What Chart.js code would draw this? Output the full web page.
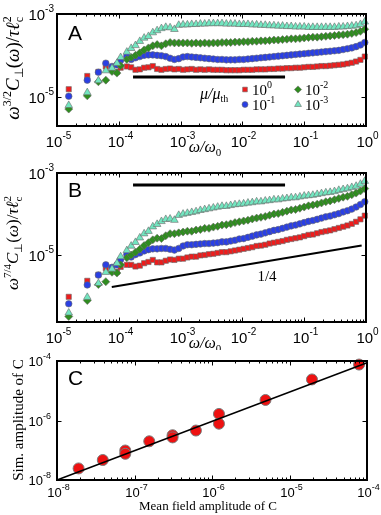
<!DOCTYPE html>
<html>
<head>
<meta charset="utf-8">
<script src="https://cdn.jsdelivr.net/npm/chart.js@4.4.0/dist/chart.umd.min.js"></script>
<style>
    html, body { margin: 0; padding: 0; background: #fff; }
    #wrap { position: relative; width: 381px; height: 515px; overflow: hidden; }
    canvas { position: absolute; left: 0; }
</style>
</head>
<body>
<div id="wrap">
    <canvas id="chartA" width="381" height="160" style="top:0px"></canvas>
    <canvas id="chartB" width="381" height="190" style="top:160px"></canvas>
    <canvas id="chartC" width="381" height="165" style="top:350px"></canvas>
</div>
<script>
// Fonts
const SANS = '"Liberation Sans", Arial, sans-serif';
const SERIF = '"Liberation Serif", "Times New Roman", serif';

// ---- Data (log10 values) ----
// omega / omega0 (log10), shared by panels A and B
const omegaExp = [-4.81, -4.51, -4.33, -4.21, -4.11, -4.03, -3.97,
    -3.87, -3.80, -3.73, -3.66, -3.59, -3.52, -3.45, -3.38, -3.31, -3.24,
    -3.17, -3.10, -3.03, -2.96, -2.89, -2.82, -2.75, -2.68, -2.61, -2.54,
    -2.47, -2.40, -2.33, -2.26, -2.19, -2.12, -2.05, -1.98, -1.91, -1.84,
    -1.77, -1.70, -1.63, -1.56, -1.49, -1.42, -1.35, -1.28, -1.21, -1.14,
    -1.07, -1.00, -0.93, -0.86, -0.79, -0.72, -0.65, -0.58, -0.51, -0.44,
    -0.37, -0.30, -0.23, -0.16, -0.09, -0.02];

// Panel A: omega^(3/2) C(omega) / tau l_c^2 (log10)
const aRed = [-4.82, -4.50, -4.40, -4.27, -4.35, -4.40, -4.30,
    -4.27, -4.29, -4.35, -4.34, -4.30, -4.29, -4.26, -4.33, -4.35, -4.33,
    -4.32, -4.34, -4.33, -4.35, -4.34, -4.33, -4.35, -4.34, -4.35, -4.34,
    -4.35, -4.35, -4.35, -4.36, -4.36, -4.36, -4.36, -4.35, -4.35, -4.35,
    -4.34, -4.34, -4.34, -4.33, -4.33, -4.32, -4.32, -4.31, -4.31, -4.30,
    -4.30, -4.29, -4.28, -4.28, -4.27, -4.26, -4.26, -4.25, -4.24, -4.23,
    -4.22, -4.20, -4.18, -4.15, -4.11, -4.03];
const aBlue = [-4.99, -4.60, -4.41, -4.19, -4.27, -4.23, -4.12,
    -4.02, -4.10, -4.06, -4.03, -4.00, -3.99, -3.99, -4.00, -4.01, -4.03,
    -4.07, -4.10, -4.08, -4.04, -4.03, -4.04, -4.05, -4.06, -4.07, -4.08,
    -4.09, -4.10, -4.10, -4.11, -4.11, -4.11, -4.10, -4.10, -4.09, -4.08,
    -4.07, -4.06, -4.05, -4.04, -4.03, -4.02, -4.01, -4.00, -3.99, -3.98,
    -3.97, -3.96, -3.95, -3.94, -3.93, -3.92, -3.91, -3.90, -3.89, -3.88,
    -3.86, -3.84, -3.82, -3.79, -3.75, -3.69];
const aGreen = [-5.30, -4.98, -4.64, -4.60, -4.39, -4.43, -4.25,
    -4.10, -4.05, -4.00, -3.94, -3.87, -3.82, -3.77, -3.74, -3.77, -3.72,
    -3.69, -3.70, -3.70, -3.70, -3.70, -3.71, -3.70, -3.71, -3.70, -3.71,
    -3.70, -3.70, -3.69, -3.69, -3.69, -3.68, -3.68, -3.67, -3.67, -3.66,
    -3.66, -3.65, -3.65, -3.64, -3.63, -3.63, -3.62, -3.61, -3.60, -3.60,
    -3.59, -3.58, -3.57, -3.56, -3.56, -3.55, -3.54, -3.53, -3.52, -3.51,
    -3.50, -3.49, -3.47, -3.45, -3.42, -3.37];
const aCyan = [-5.21, -4.90, -4.61, -4.37, -4.31, -4.19, -4.05,
    -3.92, -3.83, -3.76, -3.66, -3.58, -3.54, -3.45, -3.40, -3.35, -3.32,
    -3.33, -3.37, -3.27, -3.26, -3.26, -3.25, -3.25, -3.24, -3.24, -3.23,
    -3.23, -3.23, -3.23, -3.24, -3.24, -3.24, -3.25, -3.25, -3.25, -3.26,
    -3.26, -3.27, -3.27, -3.28, -3.28, -3.29, -3.29, -3.30, -3.30, -3.31,
    -3.31, -3.31, -3.32, -3.32, -3.32, -3.32, -3.32, -3.32, -3.32, -3.31,
    -3.31, -3.30, -3.29, -3.28, -3.25, -3.19];

// Panel B: omega^(7/4) C(omega) / tau l_c^2 (log10)
const bRed = [-6.02, -5.63, -5.48, -5.32, -5.38, -5.41, -5.29,
    -5.24, -5.24, -5.28, -5.26, -5.20, -5.17, -5.12, -5.18, -5.18, -5.14,
    -5.11, -5.12, -5.09, -5.09, -5.06, -5.04, -5.04, -5.01, -5.00, -4.98,
    -4.97, -4.95, -4.93, -4.93, -4.91, -4.89, -4.87, -4.85, -4.83, -4.81,
    -4.78, -4.77, -4.75, -4.72, -4.70, -4.68, -4.66, -4.63, -4.61, -4.59,
    -4.57, -4.54, -4.51, -4.50, -4.47, -4.44, -4.42, -4.40, -4.37, -4.34,
    -4.31, -4.28, -4.24, -4.19, -4.13, -4.04];
const bBlue = [-6.19, -5.73, -5.49, -5.24, -5.30, -5.24, -5.11,
    -4.99, -5.05, -4.99, -4.95, -4.90, -4.87, -4.85, -4.85, -4.84, -4.84,
    -4.86, -4.88, -4.84, -4.78, -4.75, -4.75, -4.74, -4.73, -4.72, -4.72,
    -4.71, -4.70, -4.68, -4.68, -4.66, -4.64, -4.61, -4.60, -4.57, -4.54,
    -4.51, -4.49, -4.46, -4.43, -4.40, -4.38, -4.35, -4.32, -4.29, -4.27,
    -4.24, -4.21, -4.18, -4.16, -4.13, -4.10, -4.07, -4.05, -4.02, -3.99,
    -3.95, -3.92, -3.88, -3.83, -3.77, -3.70];
const bGreen = [-6.50, -6.11, -5.72, -5.65, -5.42, -5.44, -5.24,
    -5.07, -5.00, -4.93, -4.86, -4.77, -4.70, -4.63, -4.59, -4.60, -4.53,
    -4.48, -4.48, -4.46, -4.44, -4.42, -4.42, -4.39, -4.38, -4.35, -4.35,
    -4.32, -4.30, -4.27, -4.26, -4.24, -4.21, -4.19, -4.17, -4.15, -4.12,
    -4.10, -4.08, -4.06, -4.03, -4.00, -3.99, -3.96, -3.93, -3.90, -3.89,
    -3.86, -3.83, -3.80, -3.78, -3.76, -3.73, -3.70, -3.68, -3.65, -3.62,
    -3.59, -3.57, -3.53, -3.49, -3.44, -3.38];
const bCyan = [-6.41, -6.03, -5.69, -5.42, -5.34, -5.20, -5.04,
    -4.89, -4.78, -4.69, -4.58, -4.48, -4.42, -4.31, -4.25, -4.18, -4.13,
    -4.12, -4.15, -4.03, -4.00, -3.98, -3.96, -3.94, -3.91, -3.89, -3.87,
    -3.85, -3.83, -3.81, -3.81, -3.79, -3.77, -3.76, -3.75, -3.73, -3.72,
    -3.70, -3.70, -3.68, -3.67, -3.65, -3.65, -3.63, -3.62, -3.60, -3.60,
    -3.58, -3.56, -3.55, -3.54, -3.52, -3.50, -3.48, -3.47, -3.45, -3.42,
    -3.40, -3.38, -3.35, -3.32, -3.27, -3.20];

// legend: mu / mu_th exponents
const muExp = ['0', '-1', '-2', '-3'];

// reference lines
const aFlatX = [1.7e-4, 4.9e-2];
const aFlatY = [3.0e-5, 3.0e-5];
const bFlatX = [1.7e-4, 4.9e-2];
const bFlatY = [5.1e-4, 5.1e-4];
const bSlopeX = [7.7e-5, 0.85];
const bSlopeY = [1.66e-6, 1.7e-5];

// Panel C
const cMeanField = [1.9e-8, 3.9e-8, 7.6e-8, 7.6e-8, 1.55e-7, 3.1e-7, 3.1e-7,
    6.2e-7, 1.23e-6, 1.23e-6, 4.9e-6, 1.95e-5, 7.9e-5];
const cSim = [2.45e-8, 4.7e-8, 9.8e-8, 7.6e-8, 2.0e-7, 3.2e-7, 2.7e-7,
    4.6e-7, 1.66e-6, 7.8e-7, 4.9e-6, 2.4e-5, 7.6e-5];
const cFitX = [1e-8, 1e-4];
const cFitY = [1e-8, 8.7e-5];

// tick exponents
const wTicks = [-5, -4, -3, -2, -1, 0];
const aYTicks = [-5, -3];
const bYTicks = [-5, -3];
const cXTicks = [-8, -7, -6, -5, -4];
const cYTicks = [-8, -6, -4];

// ---- Styles ----
const seriesStyle = [
    { color: '#ee1c1c', shape: 'rect', r: 3.7 },
    { color: '#2a3fe4', shape: 'circle', r: 3.3 },
    { color: '#2f8c1f', shape: 'rectRot', r: 4.0 },
    { color: '#72e6c0', shape: 'triangle', r: 4.4 }
];

function toPoints(xs, ys, isLog) {
    return xs.map((x, i) => isLog
        ? { x: Math.pow(10, x), y: Math.pow(10, ys[i]) }
        : { x: x, y: ys[i] });
}

function markerSet(data, st, order) {
    return {
        data: data,
        showLine: false,
        pointStyle: st.shape,
        pointRadius: st.r,
        pointBackgroundColor: st.color,
        pointBorderColor: '#6a6a6a',
        pointBorderWidth: 0.6,
        clip: false,
        order: order
    };
}

function lineSet(xs, ys, width) {
    return {
        data: toPoints(xs, ys, false),
        showLine: true,
        borderColor: '#000',
        borderWidth: width,
        pointRadius: 0,
        clip: false,
        order: 0
    };
}

// rich text: parts = [{t, f, dy, keep}]
function drawRich(ctx, parts, x, y, align) {
    let w = 0, cx = 0;
    parts.forEach(p => {
        ctx.font = p.f;
        const pw = ctx.measureText(p.t).width;
        w = Math.max(w, cx + pw);
        if (!p.keep) cx += pw;
    });
    let sx = x;
    if (align === 'center') sx = x - w / 2;
    if (align === 'right') sx = x - w;
    ctx.textAlign = 'left';
    ctx.textBaseline = 'alphabetic';
    cx = sx;
    parts.forEach(p => {
        ctx.font = p.f;
        ctx.fillText(p.t, cx, y + (p.dy || 0));
        if (!p.keep) cx += ctx.measureText(p.t).width;
    });
}

function powParts(e, size, supSize, raise) {
    return [
        { t: '10', f: `${size}px ${SANS}` },
        { t: String(e), f: `${supSize}px ${SANS}`, dy: -raise }
    ];
}

function drawMarker(ctx, shape, x, y, r, color) {
    ctx.save();
    ctx.fillStyle = color;
    ctx.strokeStyle = '#6a6a6a';
    ctx.lineWidth = 0.6;
    ctx.beginPath();
    if (shape === 'rect') {
        const s = r * Math.SQRT1_2;
        ctx.rect(x - s, y - s, 2 * s, 2 * s);
    } else if (shape === 'circle') {
        ctx.arc(x, y, r, 0, Math.PI * 2);
    } else if (shape === 'rectRot') {
        ctx.moveTo(x, y - r); ctx.lineTo(x + r, y); ctx.lineTo(x, y + r); ctx.lineTo(x - r, y);
        ctx.closePath();
    } else {
        ctx.moveTo(x, y - r); ctx.lineTo(x + r * 0.866, y + r / 2); ctx.lineTo(x - r * 0.866, y + r / 2);
        ctx.closePath();
    }
    ctx.fill();
    ctx.stroke();
    ctx.restore();
}

// frame, inner ticks, tick labels, labels
function decor(spec) {
    return {
        id: 'decor' + spec.id,
        afterDraw(chart) {
            const ctx = chart.ctx;
            const a = chart.chartArea;
            const xs = chart.scales.x, ys = chart.scales.y;
            ctx.save();
            ctx.strokeStyle = '#000';
            ctx.fillStyle = '#000';
            ctx.lineWidth = 1;
            const seg = (x1, y1, x2, y2) => {
                ctx.beginPath(); ctx.moveTo(x1, y1); ctx.lineTo(x2, y2); ctx.stroke();
            };
            // minor x ticks
            for (let e = spec.xTicks[0]; e < spec.xTicks[spec.xTicks.length - 1]; e++) {
                for (let m = 2; m <= 9; m++) {
                    const px = Math.round(xs.getPixelForValue(m * Math.pow(10, e))) + 0.5;
                    seg(px, a.bottom, px, a.bottom - 2.5);
                    seg(px, a.top, px, a.top + 2.5);
                }
            }
            // major x ticks + labels
            spec.xTicks.forEach(e => {
                const px = Math.round(xs.getPixelForValue(Math.pow(10, e))) + 0.5;
                seg(px, a.bottom, px, a.bottom - 4.5);
                seg(px, a.top, px, a.top + 4.5);
                ctx.fillStyle = '#000';
                drawRich(ctx, powParts(e, spec.fs, spec.sfs, spec.raise), px + 1, a.bottom + spec.xLabDy, 'center');
            });
            // major y ticks + labels
            spec.yTicks.forEach(e => {
                const py = Math.round(ys.getPixelForValue(Math.pow(10, e))) + 0.5;
                seg(a.left, py, a.left + 4.5, py);
                seg(a.right, py, a.right - 4.5, py);
                drawRich(ctx, powParts(e, spec.fs, spec.sfs, spec.raise), a.left - spec.yLabDx, py + spec.fs * 0.36, 'right');
            });
            // frame
            ctx.lineWidth = 2;
            ctx.strokeRect(a.left, a.top, a.right - a.left, a.bottom - a.top);
            // panel letter
            ctx.font = `21px ${SANS}`;
            ctx.textAlign = 'left';
            ctx.textBaseline = 'alphabetic';
            ctx.fillText(spec.letter, a.left + 11, a.top + spec.letterDy);
            if (spec.extra) spec.extra(ctx, chart);
            ctx.restore();
        }
    };
}

function yLabel(ctx, parts, x, y) {
    ctx.save();
    ctx.translate(x, y);
    ctx.rotate(-Math.PI / 2);
    drawRich(ctx, parts, 0, 0, 'center');
    ctx.restore();
}

function corrLabel(exp, big, small, up, down) {
    const it = `italic ${big}px ${SERIF}`;
    const rm = `${big}px ${SERIF}`;
    const sm = `${small}px ${SERIF}`;
    return [
        { t: 'ω', f: it },
        { t: exp, f: sm, dy: -up },
        { t: 'C', f: it },
        { t: '⊥', f: sm, dy: down },
        { t: '(', f: rm },
        { t: 'ω', f: it },
        { t: ')/', f: rm },
        { t: 'τℓ', f: it },
        { t: '2', f: sm, dy: -up, keep: true },
        { t: 'c', f: sm, dy: down }
    ];
}

function omegaLabel(ctx, x, y) {
    drawRich(ctx, [
        { t: 'ω/ω', f: `italic 16px ${SERIF}` },
        { t: '0', f: `11px ${SERIF}`, dy: 4 }
    ], x, y, 'center');
}

function baseOptions(pad, xr, yr) {
    return {
        responsive: false,
        animation: false,
        events: [],
        layout: { padding: pad },
        plugins: { legend: { display: false }, tooltip: { enabled: false } },
        scales: {
            x: { type: 'logarithmic', min: xr[0], max: xr[1], display: false },
            y: { type: 'logarithmic', min: yr[0], max: yr[1], display: false }
        }
    };
}

const aSeries = [aRed, aBlue, aGreen, aCyan];
const bSeries = [bRed, bBlue, bGreen, bCyan];

// ---- Panel A ----
new Chart(document.getElementById('chartA'), {
    type: 'scatter',
    data: {
        datasets: aSeries.map((ys, i) => markerSet(toPoints(omegaExp, ys, true), seriesStyle[i], 4 - i))
            .concat([lineSet(aFlatX, aFlatY, 3)])
    },
    options: baseOptions({ left: 57, right: 15, top: 14, bottom: 34 }, [1e-5, 1], [Math.pow(10, -5.71), 1e-3]),
    plugins: [decor({
        id: 'A', letter: 'A', letterDy: 26,
        xTicks: wTicks, yTicks: aYTicks, fs: 15, sfs: 10, raise: 8, xLabDy: 20.5, yLabDx: 3,
        extra(ctx, chart) {
            yLabel(ctx, corrLabel('3/2', 19, 12, 8, 4), 19, 68);
            omegaLabel(ctx, 205, 152);
            // legend
            drawRich(ctx, [
                { t: 'μ/μ', f: `italic 16px ${SERIF}` },
                { t: 'th', f: `10px ${SERIF}`, dy: 3 }
            ], 200, 99, 'left');
            const pos = [[245, 89.5], [245, 104.5], [298, 89.5], [298, 104.5]];
            muExp.forEach((e, i) => {
                const st = seriesStyle[i];
                drawMarker(ctx, st.shape, pos[i][0], pos[i][1], st.r * 0.9, st.color);
                ctx.fillStyle = '#000';
                drawRich(ctx, [
                    { t: '10', f: `15px ${SERIF}` },
                    { t: e, f: `10px ${SERIF}`, dy: -7 }
                ], pos[i][0] + 7, pos[i][1] + 5.5, 'left');
            });
        }
    })]
});

// ---- Panel B ----
new Chart(document.getElementById('chartB'), {
    type: 'scatter',
    data: {
        datasets: bSeries.map((ys, i) => markerSet(toPoints(omegaExp, ys, true), seriesStyle[i], 4 - i))
            .concat([lineSet(bFlatX, bFlatY, 3), lineSet(bSlopeX, bSlopeY, 2)])
    },
    options: baseOptions({ left: 57, right: 15, top: 13, bottom: 28 }, [1e-5, 1], [Math.pow(10, -6.634), 1e-3]),
    plugins: [decor({
        id: 'B', letter: 'B', letterDy: 24,
        xTicks: wTicks, yTicks: bYTicks, fs: 15, sfs: 10, raise: 8, xLabDy: 21, yLabDx: 3,
        extra(ctx, chart) {
            yLabel(ctx, corrLabel('7/4', 17, 11, 7, 4), 18, 83);
            omegaLabel(ctx, 205, 188);
            const px = chart.scales.x.getPixelForValue(0.025);
            const py = chart.scales.y.getPixelForValue(3.1e-6);
            ctx.font = `15px ${SERIF}`;
            ctx.textAlign = 'center';
            ctx.textBaseline = 'alphabetic';
            ctx.fillText('1/4', px, py + 5);
        }
    })]
});

// ---- Panel C ----
new Chart(document.getElementById('chartC'), {
    type: 'scatter',
    data: {
        datasets: [
            lineSet(cFitX, cFitY, 1.5),
            {
                data: toPoints(cMeanField, cSim, false),
                showLine: false,
                pointStyle: 'circle',
                pointRadius: 5.5,
                pointBackgroundColor: '#ee1111',
                pointBorderColor: '#7a7a7a',
                pointBorderWidth: 1,
                clip: false,
                order: 1
            }
        ]
    },
    options: baseOptions({ left: 57, right: 14, top: 11, bottom: 35 }, [1e-8, 1e-4], [1e-8, 1e-4]),
    plugins: [decor({
        id: 'C', letter: 'C', letterDy: 24,
        xTicks: cXTicks, yTicks: cYTicks, fs: 13, sfs: 9, raise: 7, xLabDy: 17, yLabDx: 6,
        extra(ctx) {
            ctx.font = `15px ${SERIF}`;
            ctx.save();
            ctx.translate(23, 70);
            ctx.rotate(-Math.PI / 2);
            ctx.textAlign = 'center';
            ctx.fillText('Sim. amplitude of C', 0, 0);
            ctx.restore();
            ctx.font = `13px ${SERIF}`;
            ctx.textAlign = 'center';
            ctx.fillText('Mean field amplitude of C', 208, 160);
        }
    })]
});
</script>
</body>
</html>
